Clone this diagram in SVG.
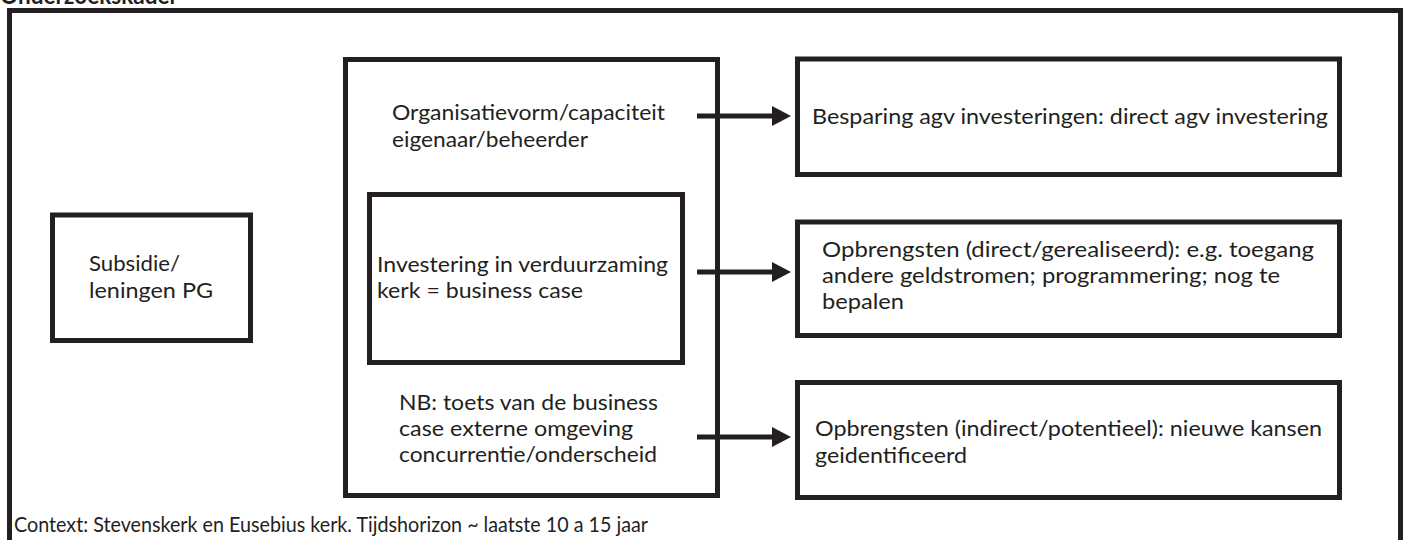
<svg xmlns="http://www.w3.org/2000/svg" width="1405" height="540" viewBox="0 0 1405 540">
<defs>
<style>
.box{fill:#fff;stroke:#231f20;stroke-width:5}
.frame{fill:none;stroke:#231f20;stroke-width:5}
.t{font-family:Lato,"Liberation Sans",sans-serif;font-size:21px;fill:#231f20}
.tc{font-family:Lato,"Liberation Sans",sans-serif;font-size:21px;fill:#231f20}
.title{font-family:Lato,"Liberation Sans",sans-serif;font-size:25px;font-weight:bold;fill:#231f20}
.conn{stroke:#231f20;stroke-width:5;fill:none}
.head{fill:#231f20}
</style>
</defs>
<rect width="1405" height="540" fill="#fff"/>
<text class="title" x="0" y="4" textLength="178" lengthAdjust="spacingAndGlyphs">Onderzoekskader</text>
<rect class="frame" x="9.5" y="10.5" width="1391" height="600"/>
<g id="subsidie">
<rect class="box" x="52.5" y="215" width="198" height="125.5"/>
<text class="t" x="89" y="271" textLength="91" lengthAdjust="spacingAndGlyphs">Subsidie/</text>
<text class="t" x="89" y="298" textLength="124" lengthAdjust="spacingAndGlyphs">leningen PG</text>
</g>
<g id="kader">
<rect class="box" x="345.5" y="59.5" width="372" height="436"/>
<text class="t" x="392" y="120" textLength="273" lengthAdjust="spacingAndGlyphs">Organisatievorm/capaciteit</text>
<text class="t" x="392" y="147" textLength="196" lengthAdjust="spacingAndGlyphs">eigenaar/beheerder</text>
<text class="t" x="399" y="410" textLength="259" lengthAdjust="spacingAndGlyphs">NB: toets van de business</text>
<text class="t" x="399" y="436" textLength="234" lengthAdjust="spacingAndGlyphs">case externe omgeving</text>
<text class="t" x="399" y="462" textLength="258" lengthAdjust="spacingAndGlyphs">concurrentie/onderscheid</text>
</g>
<g id="investering">
<rect class="box" x="369.5" y="194.5" width="313" height="168"/>
<text class="t" x="377" y="272" textLength="291" lengthAdjust="spacingAndGlyphs">Investering in verduurzaming</text>
<text class="t" x="377" y="298" textLength="206" lengthAdjust="spacingAndGlyphs">kerk = business case</text>
</g>
<g id="besparing">
<rect class="box" x="797.5" y="59" width="542" height="115.5"/>
<text class="tc" x="812" y="124" textLength="516" lengthAdjust="spacingAndGlyphs">Besparing agv investeringen: direct agv investering</text>
</g>
<g id="opbrengsten-direct">
<rect class="box" x="797.5" y="222" width="542" height="113.5"/>
<text class="tc" x="822" y="257" textLength="492" lengthAdjust="spacingAndGlyphs">Opbrengsten (direct/gerealiseerd): e.g. toegang</text>
<text class="tc" x="822" y="283" textLength="458" lengthAdjust="spacingAndGlyphs">andere geldstromen; programmering; nog te</text>
<text class="tc" x="822" y="309" textLength="82" lengthAdjust="spacingAndGlyphs">bepalen</text>
</g>
<g id="opbrengsten-indirect">
<rect class="box" x="797.5" y="382.5" width="542" height="115"/>
<text class="tc" x="815" y="436" textLength="507" lengthAdjust="spacingAndGlyphs">Opbrengsten (indirect/potentieel): nieuwe kansen</text>
<text class="tc" x="815" y="463" textLength="152" lengthAdjust="spacingAndGlyphs">geidentificeerd</text>
</g>
<g id="connectors">
<line class="conn" x1="697" y1="116" x2="774" y2="116"/>
<polygon class="head" points="772,106 791,116 772,126"/>
<line class="conn" x1="697" y1="272" x2="774" y2="272"/>
<polygon class="head" points="772,262 791,272 772,282"/>
<line class="conn" x1="697" y1="437" x2="774" y2="437"/>
<polygon class="head" points="772,427 791,437 772,447"/>
</g>
<text class="t" x="14" y="532" textLength="634" lengthAdjust="spacingAndGlyphs">Context: Stevenskerk en Eusebius kerk. Tijdshorizon ~ laatste 10 a 15 jaar</text>
</svg>
